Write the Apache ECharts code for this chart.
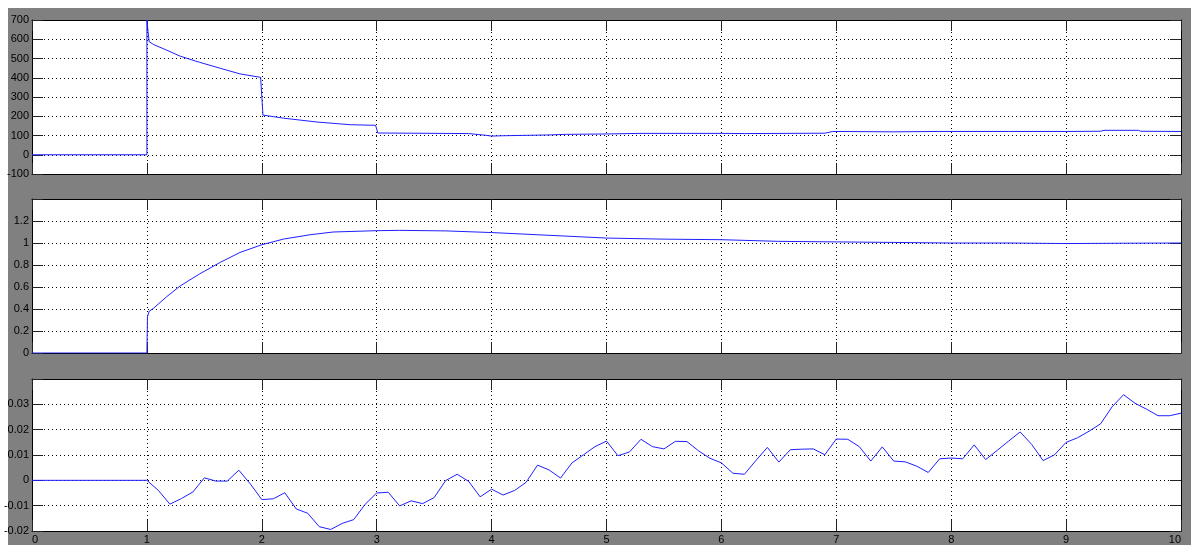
<!DOCTYPE html>
<html>
<head>
<meta charset="utf-8">
<script src="https://cdn.jsdelivr.net/npm/echarts@6/dist/echarts.min.js"></script>
<style>
  html, body { margin: 0; padding: 0; background: #ffffff; }
  #frame { position: absolute; left: 8px; top: 8px; width: 1183px; height: 537px; background: #808080; }
  #chart { position: absolute; left: 0; top: 0; width: 1191px; height: 545px; }
</style>
</head>
<body>
<div id="frame"></div>
<div id="chart"></div>
<script>
// Scope trace 1: torque-like signal, with steps at t = 1, 2, 3
const t1 = [0, 1, 1, 1.01, 1.02, 1.06, 1.17, 1.29, 1.46, 1.64, 1.81, 1.99, 2.0, 2.01, 2.19, 2.48, 2.77, 2.99, 3.0, 3.01, 3.3, 3.8, 3.95, 4.0, 4.12, 4.5, 4.65, 5.0, 5.3, 5.7, 6.0, 6.2, 6.9, 6.97, 7.5, 7.9, 8.5, 9.0, 9.3, 9.33, 9.63, 9.65, 10];
const y1 = [0, 0, 700, 640, 587, 572, 544, 512, 480, 449, 420, 402, 400, 206, 190, 170, 156, 153, 150, 113, 112, 110, 101, 97, 99, 103, 106, 108, 111, 111, 111, 110, 112, 121, 119, 121, 121, 121, 122, 127, 127, 122, 121];

// Scope trace 2: speed response
const t2 = [0, 1, 1.005, 1.02, 1.056, 1.17, 1.29, 1.46, 1.64, 1.81, 2.0, 2.19, 2.42, 2.62, 3.0, 3.2, 3.6, 4.0, 4.5, 5.0, 5.5, 6.0, 6.5, 7.0, 7.5, 8.0, 8.5, 9.0, 9.5, 10];
const y2 = [0, 0, 0.33, 0.38, 0.405, 0.51, 0.61, 0.72, 0.825, 0.914, 0.984, 1.036, 1.075, 1.10, 1.112, 1.115, 1.11, 1.095, 1.07, 1.045, 1.035, 1.03, 1.015, 1.01, 1.005, 1.0, 1.0, 0.995, 0.998, 1.0];

// Scope trace 3: error signal, sampled every 0.1 s
const t3 = [0, 1.0, 1.1, 1.2, 1.3, 1.4, 1.5, 1.6, 1.7, 1.8, 1.9,
  2.0, 2.1, 2.2, 2.3, 2.4, 2.5, 2.6, 2.7, 2.8, 2.9,
  3.0, 3.1, 3.2, 3.3, 3.4, 3.5, 3.6, 3.7, 3.8, 3.9,
  4.0, 4.1, 4.2, 4.3, 4.4, 4.5, 4.6, 4.7, 4.8, 4.9,
  5.0, 5.1, 5.2, 5.3, 5.4, 5.5, 5.6, 5.7, 5.8, 5.9,
  6.0, 6.1, 6.2, 6.3, 6.4, 6.5, 6.6, 6.7, 6.8, 6.9,
  7.0, 7.1, 7.2, 7.3, 7.4, 7.5, 7.6, 7.7, 7.8, 7.9,
  8.0, 8.1, 8.2, 8.3, 8.4, 8.5, 8.6, 8.7, 8.8, 8.9,
  9.0, 9.1, 9.2, 9.3, 9.4, 9.5, 9.6, 9.7, 9.8, 9.9, 10.0];
const y3 = [0, 0, -0.004, -0.0094, -0.0072, -0.0046, 0.001, -0.0003, -0.0003, 0.004, -0.0014,
  -0.0076, -0.0073, -0.0049, -0.0113, -0.013, -0.0183, -0.0194, -0.017, -0.0155, -0.0094,
  -0.005, -0.0047, -0.0101, -0.0081, -0.0092, -0.0068, -0.0001, 0.0024, -0.0004, -0.0065,
  -0.0035, -0.0058, -0.004, -0.0008, 0.006, 0.0041, 0.0009, 0.0069, 0.0101, 0.0133,
  0.0155, 0.0097, 0.0112, 0.0162, 0.0133, 0.0124, 0.0154, 0.0153, 0.0117, 0.0087,
  0.0069, 0.0028, 0.0024, 0.0078, 0.013, 0.0072, 0.0121, 0.0123, 0.0124, 0.0101,
  0.0163, 0.0162, 0.0133, 0.0076, 0.0132, 0.0076, 0.0073, 0.0056, 0.0031, 0.0085,
  0.0088, 0.0085, 0.014, 0.0082, 0.0118, 0.0155, 0.0191, 0.0142, 0.0078, 0.0101,
  0.015, 0.0168, 0.0194, 0.0223, 0.029, 0.0338, 0.0304, 0.0281, 0.0255, 0.0255, 0.0265];

// Axis ranges for the three panels
const timeTicks = { min: 0, max: 10, interval: 1 };
const yRanges = [
  { min: -100, max: 700, interval: 100, hideMax: false },
  { min: 0, max: 1.4, interval: 0.2, hideMax: true },
  { min: -0.02, max: 0.04, interval: 0.01, hideMax: true }
];

const pairs = (t, y) => t.map((v, i) => [v, y[i]]);

const chart = echarts.init(document.getElementById('chart'), null, { renderer: 'canvas' });

const grids = [
  { left: 32, top: 20, width: 1149, height: 154 },
  { left: 32, top: 199, width: 1149, height: 154 },
  { left: 32, top: 379, width: 1149, height: 153 }
];

const labelFont = { color: '#000', fontSize: 11, fontFamily: 'Liberation Sans, Arial, sans-serif' };
const dotted = { type: [1, 3], color: '#000', width: 1 };
const frame = { show: true, onZero: false, lineStyle: { color: '#000', width: 1 } };
const tick = { show: true, inside: true, length: 11, lineStyle: { color: '#222', width: 1 } };

const xAxes = [];
const yAxes = [];
grids.forEach((g, i) => {
  xAxes.push({
    gridIndex: i, type: 'value', position: 'bottom',
    min: timeTicks.min, max: timeTicks.max, interval: timeTicks.interval,
    axisLine: frame, axisTick: tick,
    axisLabel: Object.assign({ show: i === 2, margin: 3, alignMinLabel: 'left', alignMaxLabel: 'right' }, labelFont),
    splitLine: { show: true, lineStyle: dotted }
  });
  xAxes.push({
    gridIndex: i, type: 'value', position: 'top',
    min: timeTicks.min, max: timeTicks.max, interval: timeTicks.interval,
    axisLine: frame, axisTick: tick, axisLabel: { show: false }, splitLine: { show: false }
  });
  const r = yRanges[i];
  yAxes.push({
    gridIndex: i, type: 'value', position: 'left',
    min: r.min, max: r.max, interval: r.interval,
    axisLine: frame, axisTick: tick,
    axisLabel: Object.assign({
      margin: 3,
      showMinLabel: true, showMaxLabel: true,
      formatter: v => (r.hideMax && Math.abs(v - r.max) < 1e-9) ? '' : String(+v.toFixed(4))
    }, labelFont),
    splitLine: { show: true, lineStyle: dotted }
  });
  yAxes.push({
    gridIndex: i, type: 'value', position: 'right',
    min: r.min, max: r.max, interval: r.interval,
    axisLine: frame, axisTick: tick, axisLabel: { show: false }, splitLine: { show: false }
  });
});

const lineStyle = { color: '#1f1fff', width: 1 };
const traces = [pairs(t1, y1), pairs(t2, y2), pairs(t3, y3)];

chart.setOption({
  animation: false,
  backgroundColor: 'transparent',
  grid: grids.map(g => Object.assign({ backgroundColor: '#ffffff', show: true, borderWidth: 0 }, g)),
  xAxis: xAxes,
  yAxis: yAxes,
  series: traces.map((d, i) => ({
    type: 'line',
    xAxisIndex: i * 2,
    yAxisIndex: i * 2,
    data: d,
    showSymbol: false,
    symbol: 'none',
    clip: true,
    lineStyle: lineStyle
  }))
});
</script>
</body>
</html>
